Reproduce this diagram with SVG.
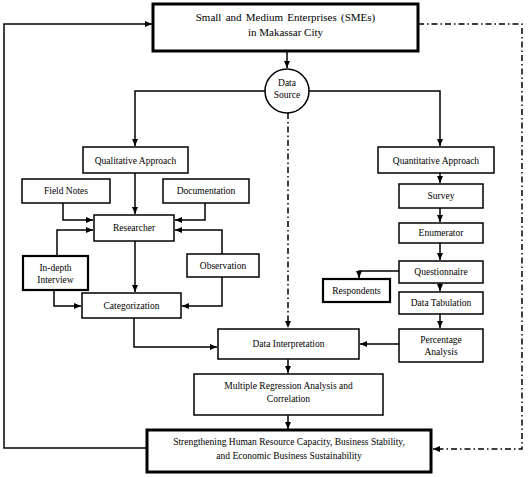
<svg xmlns="http://www.w3.org/2000/svg" width="528" height="477" viewBox="0 0 528 477">
<style>
.box{fill:#fff;stroke:#000;stroke-width:1.5}
.thick{fill:#fff;stroke:#000;stroke-width:3}
.mid{fill:#fff;stroke:#000;stroke-width:2.2}
.t{font-family:"Liberation Serif","DejaVu Serif",serif;font-size:9.5px;fill:#000;text-anchor:middle}
.tl{font-family:"Liberation Serif","DejaVu Serif",serif;font-size:11px;fill:#000;text-anchor:middle}
.c{fill:none;stroke:#000;stroke-width:1.5}
.d{fill:none;stroke:#000;stroke-width:1.5;stroke-dasharray:6 3 1.5 3}
</style>
<defs>
<marker id="ah" markerUnits="userSpaceOnUse" markerWidth="8" markerHeight="8" refX="7" refY="4" orient="auto">
<path d="M0,1 L7,4 L0,7 Z" fill="#000"/>
</marker>
</defs>
<rect width="528" height="477" fill="#fff"/>
<g id="connectors">
<path class="c" d="M287,51 V68" marker-end="url(#ah)"/>
<path class="c" d="M265,91 H135 V146" marker-end="url(#ah)"/>
<path class="c" d="M309,91 H440 V146" marker-end="url(#ah)"/>
<path class="d" d="M288,113 V328" marker-end="url(#ah)"/>
<path class="c" d="M135,173 V214" marker-end="url(#ah)"/>
<path class="c" d="M63,203 V220 H93" marker-end="url(#ah)"/>
<path class="c" d="M205,203 V220 H175" marker-end="url(#ah)"/>
<path class="c" d="M57,256 V230 H93" marker-end="url(#ah)"/>
<path class="c" d="M222,254 V230 H175" marker-end="url(#ah)"/>
<path class="c" d="M135,241 V292" marker-end="url(#ah)"/>
<path class="c" d="M54,290 V306 H81" marker-end="url(#ah)"/>
<path class="c" d="M222,277 V306 H182" marker-end="url(#ah)"/>
<path class="c" d="M134,318 V347 H217" marker-end="url(#ah)"/>
<path class="c" d="M440,173 V183" marker-end="url(#ah)"/>
<path class="c" d="M440,208 V222" marker-end="url(#ah)"/>
<path class="c" d="M440,243 V260" marker-end="url(#ah)"/>
<path class="c" d="M399,271 H359 V278" marker-end="url(#ah)"/>
<path class="c" d="M440,283 V291" marker-end="url(#ah)"/>
<path class="c" d="M440,314 V328" marker-end="url(#ah)"/>
<path class="c" d="M399,344 H360" marker-end="url(#ah)"/>
<path class="c" d="M288,359 V373" marker-end="url(#ah)"/>
<path class="c" d="M288,415 V429" marker-end="url(#ah)"/>
<path class="c" d="M147,448 H4 V24 H152" marker-end="url(#ah)"/>
<path class="d" d="M418,24 H522 V449 H433" marker-end="url(#ah)"/>
</g>
<g id="smes">
<rect class="thick" x="153" y="4" width="265" height="47"/>
<text class="tl" x="285.5" y="21" word-spacing="1.5">Small and Medium Enterprises (SMEs)</text>
<text class="tl" x="285.5" y="36">in Makassar City</text>
</g>
<g id="datasource">
<circle class="box" cx="287" cy="91" r="22"/>
<text class="t" x="287" y="86" font-size="9">Data</text>
<text class="t" x="287" y="98" font-size="9">Source</text>
</g>
<g id="qualitative">
<rect class="box" x="83" y="147" width="105" height="26"/>
<text class="t" x="135.5" y="163.5">Qualitative Approach</text>
</g>
<g id="fieldnotes">
<rect class="box" x="22" y="179" width="88" height="24"/>
<text class="t" x="66" y="194">Field Notes</text>
</g>
<g id="documentation">
<rect class="box" x="163" y="179" width="86" height="24"/>
<text class="t" x="206" y="194">Documentation</text>
</g>
<g id="researcher">
<rect class="box" x="94" y="215" width="80" height="26"/>
<text class="t" x="134" y="231">Researcher</text>
</g>
<g id="indepth">
<rect class="mid" x="23" y="256" width="65" height="34"/>
<text class="t" x="55.5" y="271">In-depth</text>
<text class="t" x="55.5" y="283">Interview</text>
</g>
<g id="observation">
<rect class="box" x="187" y="254" width="72" height="23"/>
<text class="t" x="223" y="268.5">Observation</text>
</g>
<g id="categorization">
<rect class="box" x="82" y="293" width="99" height="25"/>
<text class="t" x="131.5" y="308.5">Categorization</text>
</g>
<g id="datainterpretation">
<rect class="box" x="218" y="329" width="141" height="30"/>
<text class="t" x="288.5" y="347">Data Interpretation</text>
</g>
<g id="regression">
<rect class="box" x="194" y="374" width="189" height="41"/>
<text class="t" x="288.5" y="389">Multiple Regression Analysis and</text>
<text class="t" x="288.5" y="402">Correlation</text>
</g>
<g id="strengthening">
<rect class="thick" x="147" y="430" width="284" height="42"/>
<text class="t" x="289" y="445">Strengthening Human Resource Capacity, Business Stability,</text>
<text class="t" x="289" y="459">and Economic Business Sustainability</text>
</g>
<g id="quantitative">
<rect class="box" x="378" y="147" width="116" height="26"/>
<text class="t" x="436" y="163.5">Quantitative Approach</text>
</g>
<g id="survey">
<rect class="box" x="399" y="184" width="84" height="24"/>
<text class="t" x="441" y="199">Survey</text>
</g>
<g id="enumerator">
<rect class="box" x="399" y="223" width="84" height="20"/>
<text class="t" x="441" y="236">Enumerator</text>
</g>
<g id="questionnaire">
<rect class="box" x="399" y="261" width="84" height="22"/>
<text class="t" x="441" y="275">Questionnaire</text>
</g>
<g id="respondents">
<rect class="mid" x="323" y="279" width="67" height="23"/>
<text class="t" x="356.5" y="293.5">Respondents</text>
</g>
<g id="datatabulation">
<rect class="box" x="399" y="292" width="84" height="22"/>
<text class="t" x="441" y="306">Data Tabulation</text>
</g>
<g id="percentage">
<rect class="box" x="399" y="329" width="84" height="33"/>
<text class="t" x="441" y="343">Percentage</text>
<text class="t" x="441" y="355">Analysis</text>
</g>
</svg>
